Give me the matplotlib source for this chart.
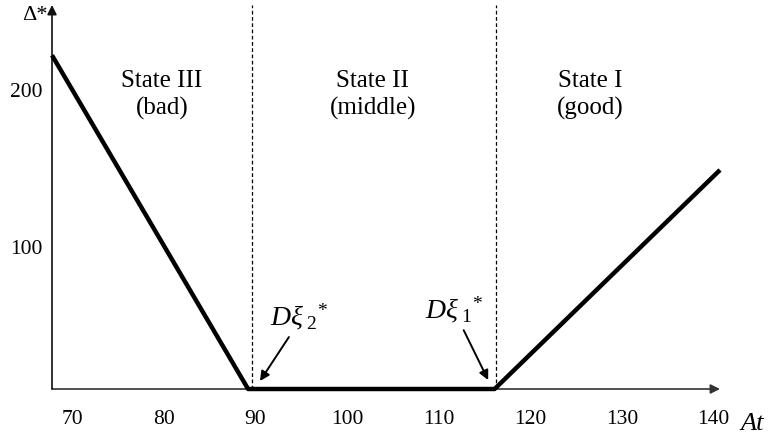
import matplotlib
matplotlib.use("Agg")
import matplotlib.pyplot as plt

plt.rcParams['font.family'] = ['Liberation Serif', 'DejaVu Serif']
plt.rcParams['mathtext.fontset'] = 'custom'
plt.rcParams['mathtext.rm'] = 'Liberation Serif'
plt.rcParams['mathtext.it'] = 'Liberation Serif:italic'

# data (schematic)
at_values = [67.8, 89.2, 116.1, 140.7]
delta_values = [222, 9.6, 9.6, 149]
thresholds = [89.6, 116.3]
x_ticks = [70, 80, 90, 100, 110, 120, 130, 140]
y_ticks = [100, 200]
state_labels = ["State III\n(bad)", "State II\n(middle)", "State I\n(good)"]
state_x = [79.8, 102.8, 126.5]

W, H = 770, 437
fig = plt.figure(figsize=(W / 100, H / 100), dpi=100)
ax = fig.add_axes([52 / W, (H - 389) / H, (720 - 52) / W, (389 - 5) / H])
ax.set_xlim(67.8, 140.7)
ax.set_ylim(9.6, 254)

for s in ax.spines.values():
    s.set_visible(False)

# axes with arrows
ax.annotate('', xy=(1, 0), xytext=(0, 0), xycoords='axes fraction',
            arrowprops=dict(arrowstyle='-|>', color='#333333', lw=1.2,
                            mutation_scale=14, shrinkA=0, shrinkB=0))
ax.annotate('', xy=(0, 1), xytext=(0, 0), xycoords='axes fraction',
            arrowprops=dict(arrowstyle='-|>', color='#111111', lw=1.2,
                            mutation_scale=14, shrinkA=0, shrinkB=0))

ax.set_xticks(x_ticks)
ax.set_xticklabels([str(v) for v in x_ticks])
ax.set_yticks(y_ticks)
ax.set_yticklabels([str(v) for v in y_ticks])
ax.tick_params(axis='x', length=0, pad=15, labelsize=15.5)
ax.tick_params(axis='y', length=0, pad=7, labelsize=15.5)

# threshold lines
for t in thresholds:
    ax.axvline(t, ymin=0, ymax=1, color='black', lw=0.9, ls=(0, (3, 2)))

# main line
ax.plot(at_values, delta_values, color='black', lw=3.2, solid_capstyle='butt',
        clip_on=False, zorder=5)

# state labels
for lab, xs in zip(state_labels, state_x):
    ax.text(xs, 196.8, lab, ha='center', va='center', fontsize=18,
            multialignment='center', linespacing=1.25)

# annotations
ax.annotate(r'$D\xi_{\ 2}{}^{*}$', xy=(90.5, 14.7), xytext=(91.6, 50.3),
            fontsize=20, ha='left', va='baseline',
            arrowprops=dict(arrowstyle='-|>', color='black', lw=1.4,
                            mutation_scale=14, shrinkA=2, shrinkB=0,
                            relpos=(0.38, 0.0)))
ax.annotate(r'$D\xi_{\ 1}{}^{*}$', xy=(115.4, 15.3), xytext=(108.5, 54.8),
            fontsize=20, ha='left', va='baseline',
            arrowprops=dict(arrowstyle='-|>', color='black', lw=1.4,
                            mutation_scale=14, shrinkA=2, shrinkB=0,
                            relpos=(0.62, 0.0)))

# axis labels
fig.text(48 / W, 1 - 16 / H, 'Δ*', ha='right', va='center', fontsize=16)
fig.text(740 / W, 1 - 430 / H, 'At', ha='left', va='baseline', fontsize=19,
         style='italic')

fig.savefig('out.png', dpi=100)
